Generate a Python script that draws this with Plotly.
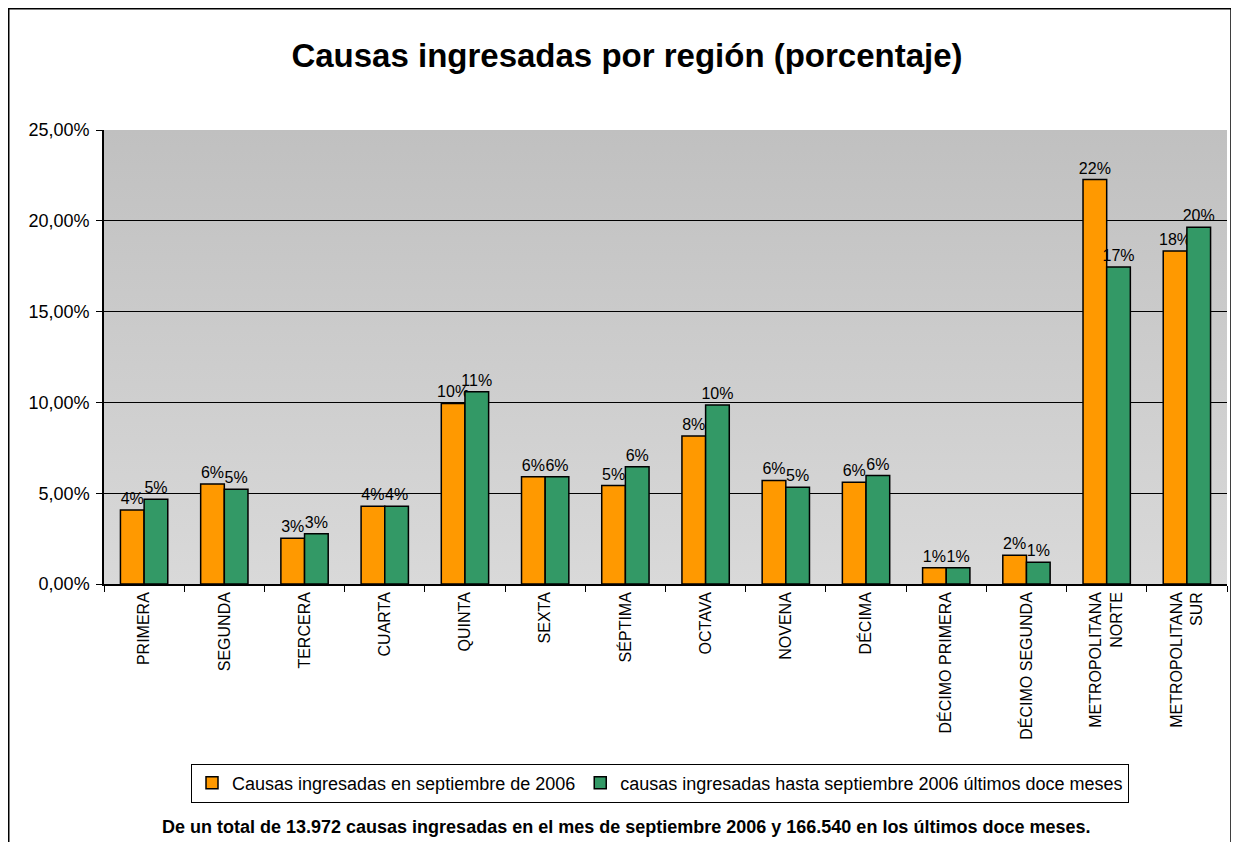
import base64
import plotly.graph_objects as go

regions = ["PRIMERA", "SEGUNDA", "TERCERA", "CUARTA", "QUINTA", "SEXTA", "SÉPTIMA",
           "OCTAVA", "NOVENA", "DÉCIMA", "DÉCIMO PRIMERA", "DÉCIMO SEGUNDA",
           "METROPOLITANA<br>NORTE", "METROPOLITANA<br>SUR"]
sep_2006 = [0.0408, 0.0551, 0.0252, 0.0428, 0.0994, 0.0590, 0.0542,
            0.0815, 0.0570, 0.0560, 0.0090, 0.0158, 0.2227, 0.1834]
last_12m = [0.0467, 0.0522, 0.0277, 0.0428, 0.1059, 0.0590, 0.0646,
            0.0985, 0.0533, 0.0597, 0.0090, 0.0120, 0.1745, 0.1965]
series_names = ["Causas ingresadas en septiembre de 2006",
                "causas ingresadas hasta septiembre 2006 últimos doce meses"]
y_ticks = [0, 0.05, 0.10, 0.15, 0.20, 0.25]

FONT = "Arial, Liberation Sans, sans-serif"
# page body has an 8px margin, so the figure is drawn 8px smaller
W, H = 1231, 834
L, T, PW, PH = 96, 122, 1123, 454

fig = go.Figure()
for name, vals, color in [(series_names[0], sep_2006, "#FF9900"),
                          (series_names[1], last_12m, "#339966")]:
    fig.add_trace(go.Bar(
        x=regions, y=vals, name=name,
        marker=dict(color=color, line=dict(color="black", width=1.5)),
        texttemplate="%{y:.0%}", textposition="outside", constraintext="none",
        textfont=dict(family=FONT, size=16, color="black"),
        cliponaxis=False,
    ))

# gradient background for the plot area (SVG image)
svg = ('<svg xmlns="http://www.w3.org/2000/svg" width="100" height="100" preserveAspectRatio="none">'
       '<defs><linearGradient id="g" x1="0" y1="0" x2="0" y2="1">'
       '<stop offset="0" stop-color="#C0C0C0"/><stop offset="1" stop-color="#D9D9D9"/>'
       '</linearGradient></defs><rect width="100" height="100" fill="url(#g)"/></svg>')
bg_src = "data:image/svg+xml;base64," + base64.b64encode(svg.encode()).decode()

# outer chart frame (figure pixel positions converted to paper fractions)
def px_x(px):
    return (px - L) / PW

def px_y(py):
    return (T + PH - py) / PH

shapes = [dict(type="rect", xref="paper", yref="paper",
               x0=px_x(0.75), x1=px_x(1223), y0=px_y(H + 20), y1=px_y(0.75),
               line=dict(color="black", width=1.5), fillcolor="rgba(0,0,0,0)")]

fig.update_layout(
    width=W, height=H,
    margin=dict(l=L, r=W - L - PW, t=T, b=H - T - PH, autoexpand=False),
    paper_bgcolor="white", plot_bgcolor="rgba(0,0,0,0)",
    separators=",.",
    barmode="group", bargap=0.41, bargroupgap=0,
    shapes=shapes,
    images=[dict(source=bg_src, xref="x domain", yref="y domain", x=0, y=1,
                 sizex=1, sizey=1, sizing="stretch", xanchor="left", yanchor="top",
                 layer="below")],
    title=dict(text="<b>Causas ingresadas por región (porcentaje)</b>",
               x=px_x(619), xref="paper", xanchor="center",
               y=1 - 47 / H, yanchor="middle", yref="container",
               font=dict(family=FONT, size=33, color="black")),
    font=dict(family=FONT, color="black"),
    legend=dict(orientation="h", x=px_x(652), xanchor="center",
                yref="container", y=1 - 775 / H, yanchor="middle",
                bordercolor="black", borderwidth=1, bgcolor="white",
                font=dict(family=FONT, size=18, color="black"),
                traceorder="normal", itemwidth=30),
    annotations=[dict(
        text="<b>De un total de 13.972 causas ingresadas en el mes de septiembre 2006 y 166.540 en los últimos doce meses.</b>",
        xref="paper", yref="paper", x=px_x(618), y=px_y(819),
        xanchor="center", yanchor="middle",
        showarrow=False, font=dict(family=FONT, size=18, color="black"))],
)
fig.update_xaxes(
    tickangle=-90, tickfont=dict(family=FONT, size=16, color="black"),
    showline=True, linecolor="black", linewidth=1.5, automargin=False,
    ticks="outside", tickson="boundaries", ticklen=6, tickcolor="black",
    showgrid=False,
)
fig.update_yaxes(
    range=[0, 0.25], tickvals=y_ticks, tickformat=".2%", automargin=False,
    tickfont=dict(family=FONT, size=18, color="black"),
    showline=True, linecolor="black", linewidth=1.5,
    ticks="outside", ticklen=6, tickcolor="black", ticklabelstandoff=3,
    showgrid=True, gridcolor="black", gridwidth=1, zeroline=False,
)
fig.write_html("out.html")
